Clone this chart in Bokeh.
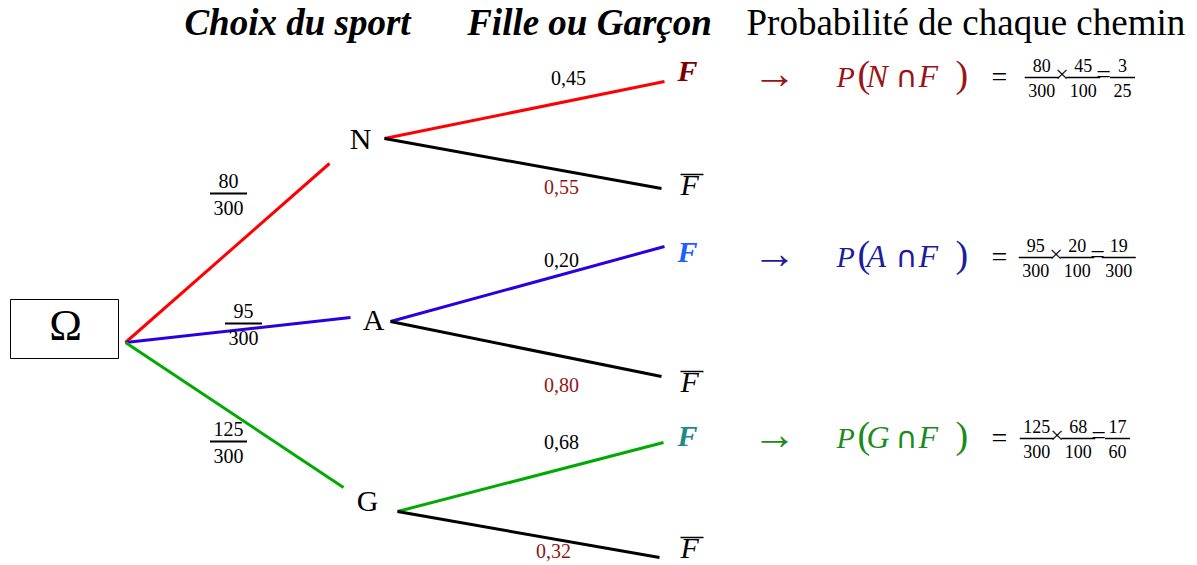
from bokeh.plotting import figure
from bokeh.models import Range1d
from bokeh.core.properties import value
from bokeh.embed import file_html
from bokeh.resources import INLINE

# ---------------- data ----------------
sports = ["N", "A", "G"]
sport_counts = [80, 95, 125]
total = 300
fille_pct = [45, 20, 68]
garcon_pct = [55, 80, 32]
result_num = [3, 19, 17]
result_den = [25, 300, 60]
headers = ["Choix du sport", "Fille ou Garçon", "Probabilité de chaque chemin"]

# ---------------- layout / styles ----------------
FONT = "Liberation Serif"
branch_colors = ["#ff0000", "#2a00e0", "#00aa00"]
f_label_colors = ["#7a0000", "#1f5fff", "#1f8a8a"]
formula_colors = ["#991515", "#1c1c9c", "#1a8c1a"]
dark_red = "#951515"

root = (125, 342)
lvl1_end = [(329, 163), (350, 317), (343, 487)]
lvl1_label = [(360, 150), (373, 331), (367, 512)]
lvl2_start = [(384, 138), (390, 321), (397, 511)]
f_end = [(664, 81), (664, 246), (663, 442)]
fb_end = [(661, 188), (661, 376), (659, 557)]
f_label = [(677, 82), (677, 263), (677, 447)]
fb_label = [(680, 196), (680, 393), (680, 559)]
p_f_label = [(568, 85), (561, 267), (561, 449)]
p_fb_label = [(561, 194), (561, 392), (553, 558)]
lvl1_frac = [(228, 193), (243, 323), (228, 441)]
row_y = [79, 259, 440]
row_frac_start = [1031, 1025, 1026]

W, H = 1197, 565
p = figure(width=W, height=H, x_range=Range1d(0, W), y_range=Range1d(H, 0),
           output_backend="svg", toolbar_location=None, min_border=0,
           x_axis_location=None, y_axis_location=None)
p.grid.visible = False
p.outline_line_color = None
p.background_fill_color = "white"


def txt(x, y, s, size, color="black", style="normal", align="left", font=FONT):
    # y is the desired alphabetic baseline; shift to the rendered position
    p.text(x=[x], y=[y - 0.4 * size], text=[s], text_font=value(font),
           text_font_size=f"{size}px", text_color=color, text_font_style=style,
           text_align=align, text_baseline="alphabetic")


def seg(a, b, color, lw):
    p.segment(x0=[a[0]], y0=[a[1]], x1=[b[0]], y1=[b[1]], line_color=color, line_width=lw)


def frac(xc, ybar, num, den, size, color="black", lw=1.5):
    half = max(len(str(num)), len(str(den))) * size * 0.25 + 3.5
    seg((xc - half, ybar), (xc + half, ybar), color, lw)
    txt(xc, ybar - 0.25 * size, str(num), size, color, align="center")
    txt(xc, ybar + 1.12 * size, str(den), size, color, align="center")
    return 2 * half


# headers
txt(297, 37, headers[0], 37, style="bold italic", align="center")
txt(589, 37, headers[1], 37, style="bold italic", align="center")
txt(746, 37, headers[2], 37)

# Omega box
p.quad(left=[10], right=[118], top=[299], bottom=[358], fill_color=None,
       line_color="black", line_width=1)
txt(65, 343, "Ω", 44, align="center")

for i, s in enumerate(sports):
    # first level
    seg(root, lvl1_end[i], branch_colors[i], 3)
    txt(lvl1_label[i][0], lvl1_label[i][1], s, 30, align="center")
    frac(lvl1_frac[i][0], lvl1_frac[i][1], sport_counts[i], total, 20, lw=2)
    # second level
    seg(lvl2_start[i], f_end[i], branch_colors[i], 3)
    seg(lvl2_start[i], fb_end[i], "black", 3)
    txt(f_label[i][0], f_label[i][1], "F", 30, f_label_colors[i], "bold italic")
    txt(fb_label[i][0], fb_label[i][1], "F", 30, "black", "italic")
    seg((fb_label[i][0], fb_label[i][1] - 22), (fb_label[i][0] + 23, fb_label[i][1] - 22), "black", 1.5)
    txt(p_f_label[i][0], p_f_label[i][1], f"0,{fille_pct[i]:02d}", 20, "black", align="center")
    txt(p_fb_label[i][0], p_fb_label[i][1], f"0,{garcon_pct[i]:02d}", 20, dark_red, align="center")

    # formula
    yc = row_y[i]
    c = formula_colors[i]
    txt(774, yc + 12, "→", 44, c, align="center")
    txt(836, yc + 9, "P", 30, c, "italic")
    txt(857, yc + 10, "(", 38, c)
    txt(866, yc + 9, s, 32, c, "italic")
    txt(906, yc + 9, "∩", 30, c, align="center", font="DejaVu Sans")
    txt(918, yc + 9, "F", 32, c, "italic")
    txt(955, yc + 10, ")", 38, c)
    txt(999, yc + 8, "=", 28, "black", align="center")
    x = row_frac_start[i]
    ybar = yc - 2
    w1 = max(len(str(sport_counts[i])), len(str(total))) * 4.5 + 7
    frac(x + w1 / 2, ybar, sport_counts[i], total, 18)
    x += w1
    txt(x + 10, ybar + 6, "×", 24, "black", align="center")
    x += 21
    w2 = 3 * 4.5 + 7
    frac(x + w2 / 2, ybar, fille_pct[i], 100, 18)
    x += w2
    txt(x + 10, ybar + 7, "=", 26, "black", align="center")
    x += 21
    w3 = max(len(str(result_num[i])), len(str(result_den[i]))) * 4.5 + 7
    frac(x + w3 / 2, ybar, result_num[i], result_den[i], 18)

open("out.html", "w").write(file_html(p, INLINE))
